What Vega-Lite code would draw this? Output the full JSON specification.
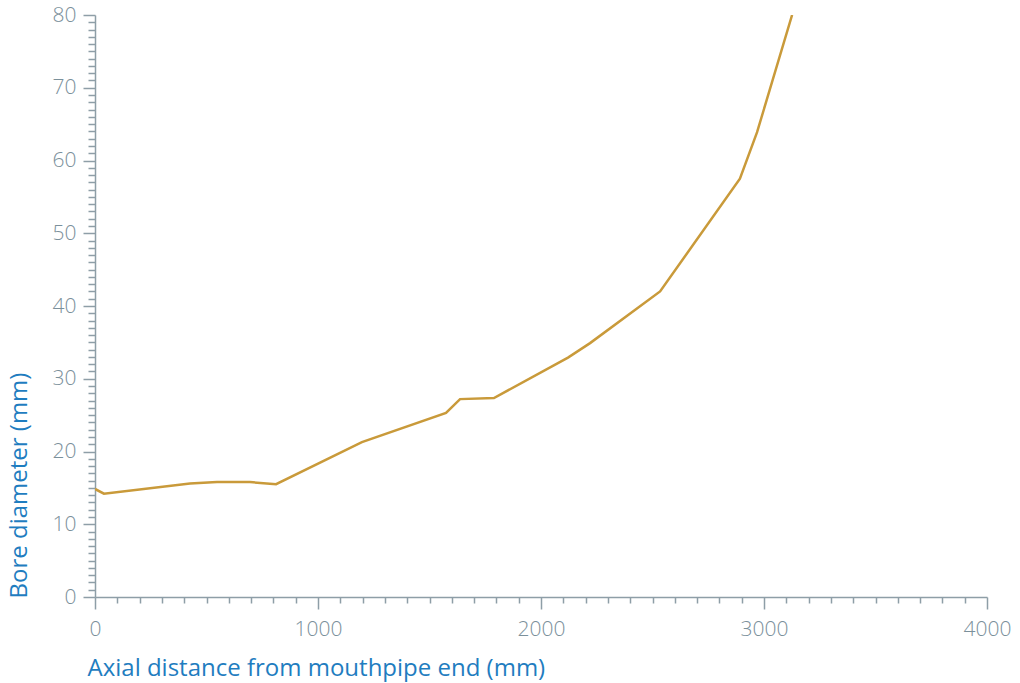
{
  "$schema": "https://vega.github.io/schema/vega-lite/v6.json",
  "width": 892,
  "height": 582,
  "autosize": "none",
  "padding": {"left": 95, "top": 15, "right": 33, "bottom": 86},
  "background": "white",
  "config": {"view": {"stroke": null}, "font": "Open Sans"},
  "data": {"values": [
    {"x": 0, "y": 14.85},
    {"x": 40, "y": 14.2},
    {"x": 426, "y": 15.6},
    {"x": 547, "y": 15.8},
    {"x": 695, "y": 15.8},
    {"x": 812, "y": 15.5},
    {"x": 1197, "y": 21.3},
    {"x": 1574, "y": 25.3},
    {"x": 1637, "y": 27.2},
    {"x": 1789, "y": 27.35},
    {"x": 2121, "y": 32.9},
    {"x": 2220, "y": 34.9},
    {"x": 2534, "y": 42.0},
    {"x": 2892, "y": 57.5},
    {"x": 2969, "y": 63.9},
    {"x": 3126, "y": 80.0}
  ]},
  "layer": [
    {
      "mark": {"type": "line", "color": "#c99a3a", "strokeWidth": 2.5, "clip": true},
      "encoding": {
        "x": {"field": "x", "type": "quantitative",
          "scale": {"domain": [0, 4000], "nice": false, "zero": false},
          "axis": {
            "orient": "bottom",
            "values": [0, 1000, 2000, 3000, 4000], "format": "d",
            "title": "Axial distance from mouthpipe end (mm)",
            "titleFont": "Open Sans", "titleFontSize": 24, "titleFontWeight": "normal", "titleColor": "#1f7dc0",
            "titleAnchor": "start", "titleAlign": "left", "titleX": -8, "titleY": 78, "titleBaseline": "alphabetic",
            "labelFont": "Open Sans", "labelFontSize": 21, "labelFontWeight": 300, "labelColor": "#7b909b", "labelPadding": 9,
            "labelFlush": false,
            "domainColor": "#8e9ea7", "domainWidth": 1.5, "tickColor": "#8e9ea7", "tickWidth": 1.5, "tickSize": 12,
            "grid": false
          }
        },
        "y": {"field": "y", "type": "quantitative",
          "scale": {"domain": [0, 80], "nice": false, "zero": false},
          "axis": {
            "orient": "left",
            "values": [0, 10, 20, 30, 40, 50, 60, 70, 80], "format": "d",
            "title": "Bore diameter (mm)",
            "titleFont": "Open Sans", "titleFontSize": 24, "titleFontWeight": "normal", "titleColor": "#1f7dc0",
            "titleAnchor": "start", "titleAlign": "left", "titleAngle": -90, "titleX": -69, "titleY": 583, "titleBaseline": "alphabetic",
            "labelFont": "Open Sans", "labelFontSize": 21, "labelFontWeight": 300, "labelColor": "#7b909b", "labelPadding": 7,
            "labelFlush": false,
            "domainColor": "#8e9ea7", "domainWidth": 1.5, "tickColor": "#8e9ea7", "tickWidth": 1.5, "tickSize": 12,
            "grid": false
          }
        }
      }
    },
    {
      "mark": {"type": "line", "opacity": 0},
      "encoding": {
        "x": {"field": "x", "type": "quantitative",
          "axis": {
            "orient": "bottom",
            "values": [100,200,300,400,500,600,700,800,900,1100,1200,1300,1400,1500,1600,1700,1800,1900,2100,2200,2300,2400,2500,2600,2700,2800,2900,3100,3200,3300,3400,3500,3600,3700,3800,3900],
            "labels": false, "title": null, "domain": false, "grid": false,
            "tickColor": "#8e9ea7", "tickWidth": 1.5, "tickSize": 6
          }
        },
        "y": {"field": "y", "type": "quantitative",
          "axis": {
            "orient": "left",
            "values": [1,2,3,4,5,6,7,8,9,11,12,13,14,15,16,17,18,19,21,22,23,24,25,26,27,28,29,31,32,33,34,35,36,37,38,39,41,42,43,44,45,46,47,48,49,51,52,53,54,55,56,57,58,59,61,62,63,64,65,66,67,68,69,71,72,73,74,75,76,77,78,79],
            "labels": false, "title": null, "domain": false, "grid": false,
            "tickColor": "#8e9ea7", "tickWidth": 1.5, "tickSize": 7
          }
        }
      }
    }
  ],
  "resolve": {"axis": {"x": "independent", "y": "independent"}}
}
